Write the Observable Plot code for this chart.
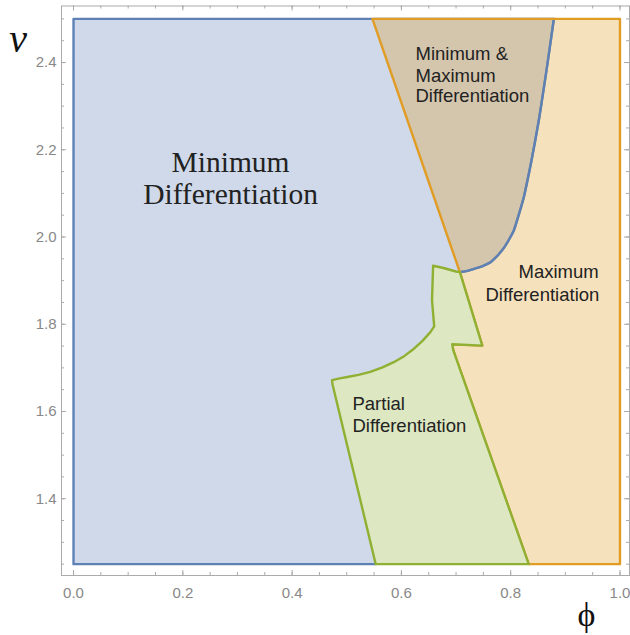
<!DOCTYPE html>
<html>
<head>
<meta charset="utf-8">
<script src="https://cdn.jsdelivr.net/npm/d3@7"></script>
<script src="https://cdn.jsdelivr.net/npm/@observablehq/plot@0.6"></script>
<style>
  html, body { margin: 0; padding: 0; background: white; }
</style>
</head>
<body>
<div id="chart"></div>
<script>
// ---- data ----
const xTicks = [0, 0.2, 0.4, 0.6, 0.8, 1.0];
const xTickLabels = ["0.0", "0.2", "0.4", "0.6", "0.8", "1.0"];
const yTicks = [1.4, 1.6, 1.8, 2.0, 2.2, 2.4];
const yTickLabels = ["1.4", "1.6", "1.8", "2.0", "2.2", "2.4"];
const xMinor = d3.range(0, 1.0001, 0.05);
const yMinor = d3.range(1.25, 2.5001, 0.05);

// boundary of "Minimum Differentiation" on the right (top to vertex)
const minBoundary = [
  [0.879, 2.5], [0.8655, 2.382], [0.8514, 2.267], [0.838, 2.175], [0.824, 2.091],
  [0.8143, 2.049], [0.8057, 2.015], [0.796, 1.992], [0.787, 1.974], [0.775, 1.956],
  [0.763, 1.942], [0.749, 1.9335], [0.7356, 1.928], [0.721, 1.9225], [0.707, 1.9195]
];
// Minimum Differentiation region
const minRegion = [
  [0, 1.25], [0, 2.5],
  ...minBoundary,
  [0.553, 1.25]
];
// Maximum Differentiation region
const maxRegion = [
  [0.547, 2.5], [1, 2.5], [1, 1.25], [0.833, 1.25],
  [0.695, 1.740], [0.693, 1.754], [0.748, 1.751], [0.707, 1.9195]
];
// Partial Differentiation region
const partialRegion = [
  [0.553, 1.25], [0.474, 1.662], [0.473, 1.672], [0.487, 1.676], [0.501, 1.679],
  [0.5215, 1.6838], [0.543, 1.691], [0.5654, 1.701], [0.586, 1.713], [0.6057, 1.7274],
  [0.623, 1.744], [0.6386, 1.7618], [0.653, 1.782], [0.660, 1.795], [0.656, 1.855],
  [0.658, 1.934], [0.677, 1.929], [0.700, 1.921], [0.707, 1.9195], [0.748, 1.751],
  [0.693, 1.754], [0.695, 1.740], [0.833, 1.25]
];

// region labels: text, x, baseline y
const sansLabels = [
  {text: "Minimum &", x: 0.6258, y: 2.4047},
  {text: "Maximum", x: 0.6258, y: 2.3565},
  {text: "Differentiation", x: 0.6258, y: 2.3084},
  {text: "Maximum", x: 0.8143, y: 1.905},
  {text: "Differentiation", x: 0.7539, y: 1.8523},
  {text: "Partial", x: 0.5105, y: 1.6025},
  {text: "Differentiation", x: 0.5105, y: 1.5521}
];
const serifLabels = [
  {text: "Minimum", x: 0.2873, y: 2.148},
  {text: "Differentiation", x: 0.2873, y: 2.0746}
];
const yAxisLabel = {text: "v", x: -0.1016, y: 2.423};
const xAxisLabel = {text: "ϕ", x: 0.9387, y: 1.1074};

// ---- colours ----
const blue = "#5E81B5", orange = "#E19C24", green = "#8FB032";
const frameGray = "#aaaaaa";

const W = 630, H = 635;
const mL = 61, mR = 1, mT = 5.5, mB = 60;
const frameW = W - mL - mR, frameH = H - mT - mB;
const SW = 2.4;

const P = d => d[0], Q = d => d[1];
const serif = "'Liberation Serif', 'Times New Roman', serif";
const sans = "'Liberation Sans', Arial, sans-serif";

const chart = Plot.plot({
  width: W, height: H,
  marginLeft: mL, marginRight: mR, marginTop: mT, marginBottom: mB,
  x: {domain: [-0.022, 1.0174], axis: null},
  y: {domain: [1.224, 2.5296], axis: null},
  style: {background: "white", fontFamily: sans},
  marks: [
    // regions
    Plot.line(minRegion, {x: P, y: Q, curve: "linear-closed", fill: "#cfd9e9", stroke: blue, strokeWidth: SW, strokeLinejoin: "round"}),
    Plot.line(maxRegion, {x: P, y: Q, curve: "linear-closed", fill: orange, fillOpacity: 0.3, stroke: "none"}),
    Plot.line(minBoundary, {x: P, y: Q, curve: "catmull-rom", stroke: blue, strokeWidth: SW}),
    Plot.line(maxRegion, {x: P, y: Q, curve: "linear-closed", fill: "none", stroke: orange, strokeWidth: SW, strokeLinejoin: "round"}),
    Plot.line(partialRegion, {x: P, y: Q, curve: "linear-closed", fill: "#dde7c1", stroke: green, strokeWidth: SW, strokeLinejoin: "round"}),
    // frame and ticks
    Plot.frame({stroke: frameGray, strokeWidth: 1}),
    Plot.tickX(xTicks, {x: d => d, insetTop: frameH - 5, stroke: frameGray}),
    Plot.tickX(xMinor, {x: d => d, insetTop: frameH - 3, stroke: frameGray}),
    Plot.tickX(xTicks, {x: d => d, insetBottom: frameH - 5, stroke: frameGray}),
    Plot.tickX(xMinor, {x: d => d, insetBottom: frameH - 3, stroke: frameGray}),
    Plot.tickY(yTicks, {y: d => d, insetRight: frameW - 5, stroke: frameGray}),
    Plot.tickY(yMinor, {y: d => d, insetRight: frameW - 3, stroke: frameGray}),
    Plot.tickY(yTicks, {y: d => d, insetLeft: frameW - 5, stroke: frameGray}),
    Plot.tickY(yMinor, {y: d => d, insetLeft: frameW - 3, stroke: frameGray}),
    // tick labels
    Plot.text(xTicks, {x: d => d, text: (d, i) => xTickLabels[i], frameAnchor: "bottom", lineAnchor: "bottom", dy: 22, fontSize: 15, fill: "#888"}),
    Plot.text(yTicks, {y: d => d, text: (d, i) => yTickLabels[i], frameAnchor: "left", textAnchor: "end", lineAnchor: "middle", dx: -5, fontSize: 15, fill: "#888"}),
    // region labels
    Plot.text(sansLabels, {x: "x", y: "y", text: "text", textAnchor: "start", lineAnchor: "bottom", fontSize: 18.5, fill: "#222", fontFamily: sans}),
    Plot.text(serifLabels, {x: "x", y: "y", text: "text", textAnchor: "middle", lineAnchor: "bottom", fontSize: 29.5, fill: "#222", fontFamily: serif}),
    // axis labels
    Plot.text([yAxisLabel], {x: "x", y: "y", text: "text", textAnchor: "middle", lineAnchor: "bottom", fontSize: 40, fontStyle: "italic", fill: "#111", fontFamily: serif}),
    Plot.text([xAxisLabel], {x: "x", y: "y", text: "text", textAnchor: "middle", lineAnchor: "bottom", fontSize: 34, fill: "#111", fontFamily: serif})
  ]
});
document.getElementById("chart").appendChild(chart);
</script>
</body>
</html>
